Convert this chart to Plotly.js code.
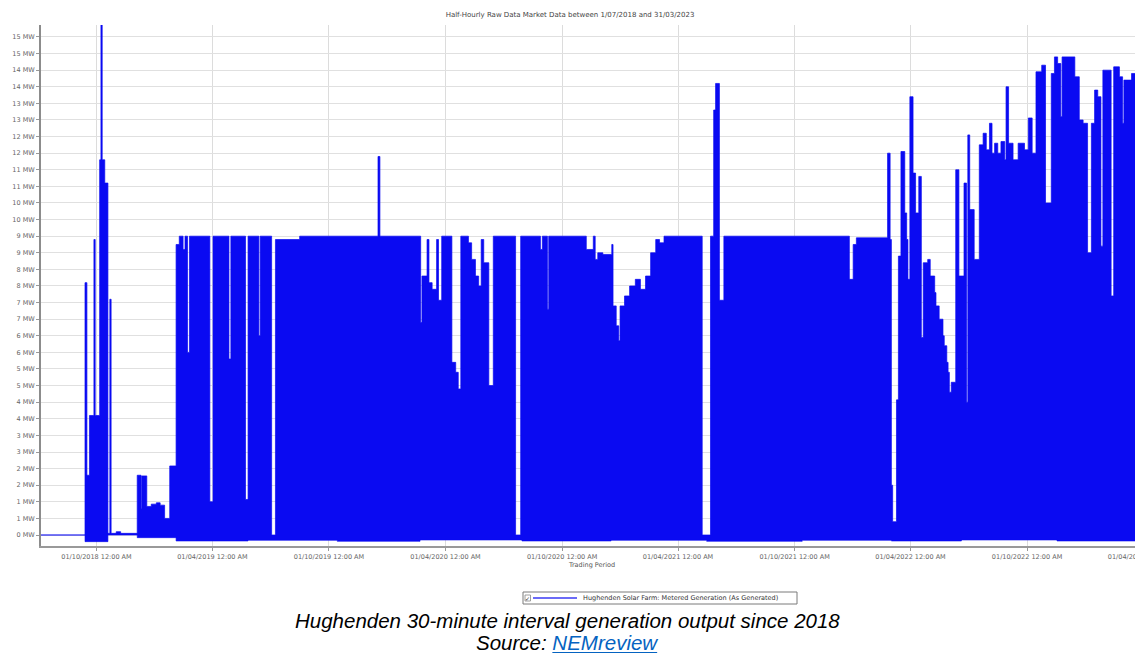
<!DOCTYPE html>
<html>
<head>
<meta charset="utf-8">
<script src="https://cdn.plot.ly/plotly-3.0.1.min.js"></script>
<style>
  html, body { margin: 0; padding: 0; background: #fff; overflow: hidden; width: 1135px; height: 653px; }
  #chart { width: 1153px; height: 653px; }
</style>
</head>
<body>
<div id="chart"></div>
<script>
// Days are counted from 1 July 2018 (start of the data window)
const baseDate = Date.UTC(2018, 6, 1);

// Upper envelope of the half-hourly output (daily peaks), step series
const upperDay = [0, 74, 77, 81, 88, 90, 97, 99, 101, 105, 110, 113, 115, 123, 130, 156, 162, 163, 171, 178, 186, 192, 199, 207,
  217, 222, 228, 231, 235, 238, 270, 275, 300, 303, 326, 330, 347, 349, 367, 373, 411, 534, 537,
  601, 603, 611, 614, 619, 626, 629, 634, 650, 656, 660, 664, 676, 681, 687, 692, 696, 700, 708, 715, 750, 758,
  789, 792, 800, 802, 861, 872, 875, 879, 887, 901, 903, 908, 912, 914, 921, 929, 938, 946, 954, 962, 970, 976, 983,
  1043, 1056, 1061, 1064, 1070, 1077, 1274, 1280, 1285,
  1334, 1338, 1340, 1342, 1348, 1351, 1355, 1361, 1364, 1366, 1369, 1374, 1378, 1383, 1387, 1390, 1397, 1401, 1408,
  1410, 1415, 1421, 1423, 1427, 1429, 1431, 1434, 1441, 1446, 1454, 1458, 1460, 1463, 1470, 1478, 1484, 1489, 1494,
  1498, 1502, 1507, 1512, 1518, 1520, 1524, 1531, 1539, 1549, 1555, 1561, 1567, 1576, 1582, 1591, 1596, 1601, 1606,
  1608, 1628, 1635, 1641, 1648, 1654, 1659, 1664, 1669, 1672, 1685, 1689, 1698, 1703, 1705, 1717, 1736];
const upperMW = [0, 7.6, 1.8, 3.6, 8.9, 3.6, 11.3, 15.6, 11.3, 10.6, 0.05, 7.1, 0.05, 0.1, 0.05, 1.8, 0.8, 1.78, 0.86, 0.93, 0.97, 0.9, 0.5, 2.08,
  8.75, 9.0, 8.6, 9.0, 5.5, 9.0, 1.0, 9.0, 5.3, 9.0, 1.07, 9.0, 6.0, 9.0, 0, 8.9, 9.0, 11.4, 9.0,
  6.4, 7.8, 8.9, 7.6, 7.4, 8.9, 7.07, 9.0, 5.2, 4.9, 4.4, 9.0, 8.8, 8.3, 7.8, 7.5, 8.9, 8.2, 4.5, 9.0, 0, 9.0,
  8.6, 9.0, 6.8, 9.0, 8.6, 9.0, 8.3, 8.5, 8.45, 8.75, 6.9, 6.3, 5.85, 6.9, 7.2, 7.5, 7.7, 7.4, 7.8, 8.5, 8.9, 8.8, 9.0,
  0, 9.0, 12.8, 13.6, 7.07, 9.0, 7.7, 8.75, 8.95,
  11.5, 8.9, 1.5, 0.4, 4.07, 8.4, 11.55, 9.7, 8.9, 7.7, 13.2, 10.9, 9.7, 10.8, 5.95, 8.2, 8.3, 7.8, 7.3,
  6.9, 6.5, 6.0, 5.7, 5.2, 4.9, 4.3, 4.6, 11.0, 7.8, 10.6, 4.0, 12.05, 9.8, 8.3, 11.75, 12.1, 11.6, 12.4,
  11.5, 11.8, 11.5, 11.85, 11.3, 13.5, 11.8, 11.3, 11.8, 11.6, 12.56, 11.5, 13.95, 14.15, 10.0, 13.9, 14.4, 14.2, 12.6,
  14.4, 13.8, 12.5, 12.4, 8.5, 12.4, 13.4, 13.2, 8.7, 14.0, 7.2, 14.1, 13.8, 12.4, 13.7, 13.9, 13.9];

// Lower envelope (night-time / auxiliary load readings), step series
const lowerDay = [0, 74, 110, 156, 217, 330, 470, 600, 760, 900, 1050, 1200, 1340, 1450, 1600, 1736];
const lowerMW  = [0, -0.2, 0, -0.08, -0.18, -0.16, -0.19, -0.15, -0.18, -0.16, -0.19, -0.16, -0.18, -0.15, -0.18, -0.18];

const yTickVals = [0, 0.5, 1, 1.5, 2, 2.5, 3, 3.5, 4, 4.5, 5, 5.5, 6, 6.5, 7, 7.5, 8, 8.5, 9, 9.5, 10, 10.5, 11, 11.5, 12, 12.5, 13, 13.5, 14, 14.5, 15];
const yTickText = ['0 MW', '1 MW', '1 MW', '2 MW', '2 MW', '3 MW', '3 MW', '4 MW', '4 MW', '5 MW', '5 MW', '6 MW', '6 MW', '7 MW', '7 MW', '8 MW',
  '8 MW', '9 MW', '9 MW', '10 MW', '10 MW', '11 MW', '11 MW', '12 MW', '12 MW', '13 MW', '13 MW', '14 MW', '14 MW', '15 MW', '15 MW'];

const xTickVals = ['2018-10-01', '2019-04-01', '2019-10-01', '2020-04-01', '2020-10-01', '2021-04-01', '2021-10-01', '2022-04-01', '2022-10-01', '2023-04-01'];
const xTickText = ['01/10/2018 12:00 AM', '01/04/2019 12:00 AM', '01/10/2019 12:00 AM', '01/04/2020 12:00 AM', '01/10/2020 12:00 AM',
  '01/04/2021 12:00 AM', '01/10/2021 12:00 AM', '01/04/2022 12:00 AM', '01/10/2022 12:00 AM', '01/04/2023 12:00 AM'];

const seriesName = 'Hughenden Solar Farm: Metered Generation (As Generated)';
const chartTitle = 'Half-Hourly Raw Data Market Data between 1/07/2018 and 31/03/2023';
const captionLine1 = 'Hughenden 30-minute interval generation output since 2018';
const captionSource = 'NEMreview';

function dayToDate(d) {
  return new Date(baseDate + d * 86400000).toISOString().slice(0, 19).replace('T', ' ');
}

const BLUE = '#0a0af2';
const W = 1153, ML = 41, MR = 10, MT = 25, MB = 107, H = 653;
const plotW = W - ML - MR, plotH = H - MT - MB;
const px = x => (x - ML) / plotW;           // page x -> paper x
const py = y => (H - MB - y) / plotH;        // page y -> paper y

const traces = [
  {
    x: lowerDay.map(dayToDate), y: lowerMW, type: 'scatter', mode: 'lines',
    line: { color: BLUE, width: 0.6, shape: 'hv' }, showlegend: false, hoverinfo: 'skip'
  },
  {
    x: upperDay.map(dayToDate), y: upperMW, type: 'scatter', mode: 'lines', name: seriesName,
    line: { color: BLUE, width: 0.7, shape: 'hv' }, fill: 'tonexty', fillcolor: BLUE,
    showlegend: false, hoverinfo: 'skip'
  }
];

// hand-drawn legend box (as in the source: checkbox, line sample, series name)
const shapes = [
  { type: 'rect', xref: 'paper', yref: 'paper', x0: px(523), x1: px(797), y0: py(592), y1: py(604),
    line: { color: '#7a7a7a', width: 1 }, fillcolor: '#ffffff', layer: 'above' },
  { type: 'rect', xref: 'paper', yref: 'paper', x0: px(525), x1: px(530.5), y0: py(595), y1: py(601),
    line: { color: '#888', width: 0.8 }, fillcolor: '#ffffff', layer: 'above' },
  { type: 'line', xref: 'paper', yref: 'paper', x0: px(533), x1: px(577), y0: py(598), y1: py(598),
    line: { color: '#3a3af5', width: 1.5 }, layer: 'above' }
];

const layout = {
  width: W, height: H,
  margin: { l: ML, r: MR, t: MT, b: MB },
  paper_bgcolor: '#ffffff', plot_bgcolor: '#ffffff',
  font: { family: 'DejaVu Sans, Verdana, sans-serif', color: '#555' },
  title: {
    text: chartTitle, font: { size: 7, color: '#444' },
    xref: 'container', x: 570 / W, xanchor: 'center',
    yref: 'container', y: 1 - 15 / H, yanchor: 'middle'
  },
  xaxis: {
    type: 'date',
    range: ['2018-07-05 22:00', '2023-04-01 00:30'],
    tickvals: xTickVals, ticktext: xTickText,
    tickfont: { size: 6.5, color: '#666' },
    ticklabeloverflow: 'allow',
    showgrid: true, gridcolor: '#dcdcdc', gridwidth: 1,
    showline: true, linecolor: '#999', linewidth: 2,
    ticks: 'outside', ticklen: 3, tickcolor: '#999',
    zeroline: false,
    title: { text: 'Trading Period', font: { size: 6.5, color: '#555' }, standoff: 2 }
  },
  yaxis: {
    range: [-0.331, 15.36],
    tickvals: yTickVals, ticktext: yTickText,
    tickfont: { size: 6.5, color: '#666' },
    showgrid: true, gridcolor: '#e0e0e0', gridwidth: 1,
    showline: true, linecolor: '#8c8c8c', linewidth: 2,
    ticks: 'outside', ticklen: 3, tickcolor: '#999',
    zeroline: false
  },
  showlegend: false,
  shapes: shapes,
  annotations: [
    {
      xref: 'paper', yref: 'paper', x: px(527.8), y: py(598), xanchor: 'center', yanchor: 'middle',
      showarrow: false, text: '✓', font: { size: 6, color: '#333' }
    },
    {
      xref: 'paper', yref: 'paper', x: px(581), y: py(598), xanchor: 'left', yanchor: 'middle',
      showarrow: false, text: seriesName, font: { size: 6.5, color: '#333' }
    },
    {
      xref: 'paper', yref: 'paper', x: px(567), y: py(620), xanchor: 'center', yanchor: 'middle',
      showarrow: false, text: '<i>' + captionLine1 + '</i>',
      font: { family: 'Liberation Sans, Arial, sans-serif', size: 20.5, color: '#000' }
    },
    {
      xref: 'paper', yref: 'paper', x: px(567), y: py(642), xanchor: 'center', yanchor: 'middle',
      showarrow: false,
      text: '<i>Source: <span style="color:#0563c1"><u>' + captionSource + '</u></span></i>',
      font: { family: 'Liberation Sans, Arial, sans-serif', size: 20.5, color: '#000' }
    }
  ]
};

Plotly.newPlot('chart', traces, layout, { staticPlot: true, displayModeBar: false });
</script>
</body>
</html>
